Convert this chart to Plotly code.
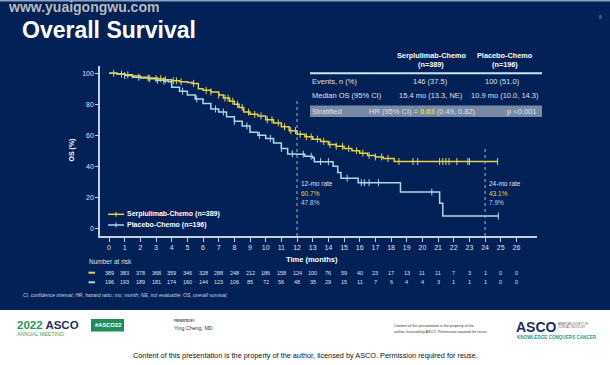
import numpy as np
import plotly.graph_objects as go

# ---------------- data ----------------
months = list(range(27))
tick_labels = [str(m) for m in months]
y_ticks = [0, 20, 40, 60, 80, 100]

serp_t = [0, 0.5, 1, 1.5, 2, 2.5, 3, 3.5, 4, 4.5, 5, 5.3, 5.7, 6, 6.5, 7, 7.3, 7.7, 8, 8.3, 8.6,
          9, 9.5, 10, 10.5, 11, 11.5, 12, 12.5, 13, 13.5, 14, 14.5, 15, 15.5, 16, 16.5, 17, 17.5,
          18.2, 24.8]
serp_s = [100, 99.5, 99, 98.2, 97.5, 97, 96.5, 95.8, 95.2, 94.5, 94, 93.5, 90, 89, 88, 86, 84, 82,
          80, 78, 75, 73.5, 72.5, 70, 68, 65.5, 63, 60.7, 59, 57.5, 56, 54, 53, 51.5, 50, 48.5, 47,
          46, 45, 43.1, 43.1]

plac_t = [0, 0.5, 1, 1.5, 2, 2.5, 3, 3.5, 3.8, 4, 4.5, 5, 5.5, 6, 6.5, 7, 7.5, 8, 8.5, 9, 9.5, 10,
          10.5, 11, 11.4, 12, 12.5, 13, 13.1, 14.3, 14.6, 14.8, 15.9, 18.6, 21.1, 21.3, 24.85]
plac_s = [100, 99.5, 98.5, 97.5, 97, 96.5, 95.5, 95, 94.5, 91, 88.5, 86, 83.5, 80.5, 77, 75, 72, 69,
          66, 62, 60, 58, 55, 51.5, 48, 47.8, 46.5, 45.5, 43, 40, 36, 32.3, 29.4, 23.4, 16.1, 7.9, 7.9]

serp_censor = [0.3, 0.8, 1.2, 2.5, 3.0, 3.3, 3.6, 4.1, 4.3, 4.6, 5.4, 6.2, 6.5, 7.0, 7.4, 7.6, 7.9,
               8.2, 8.5, 8.9, 9.3, 9.7, 10.1, 10.4, 10.8, 11.2, 11.6, 11.9, 12.2, 12.6, 12.9, 13.3,
               13.7, 14.1, 14.5, 14.9, 15.3, 15.8, 16.2, 16.6, 17.0, 17.4, 17.8, 18.5, 19.4, 19.7,
               21.1, 21.3, 21.5, 21.7, 22.2, 22.9, 23.0, 24.8]
plac_censor = [1.0, 1.9, 2.6, 3.1, 3.5, 4.7, 5.6, 6.8, 7.3, 8.0, 8.8, 9.6, 10.3, 11.0, 11.7, 12.4,
               12.9, 13.5, 14.0, 15.2, 16.1, 16.3, 16.6, 17.2, 20.6, 24.85]

risk_serp = [389, 383, 378, 368, 359, 346, 328, 288, 248, 212, 186, 158, 124, 100, 76, 59, 40, 23,
             17, 13, 11, 11, 7, 3, 1, 0, 0]
risk_plac = [196, 193, 189, 181, 174, 160, 144, 123, 106, 85, 72, 56, 48, 35, 29, 15, 11, 7, 6, 4,
             4, 3, 1, 1, 1, 0, 0]

serp_name = "Serplulimab-Chemo (n=389)"
plac_name = "Placebo-Chemo (n=196)"

# ---------------- style ----------------
W, H = 610, 365
L, R, T, B = 100, 537, 66, 236
NAVY = "#012157"
YEL = "#e5d24b"
BLU = "#a9dbe9"
TXT = "#dde4ee"
AX = "#c5cedd"
FONT = "Liberation Sans, Arial, sans-serif"


def PX(x):
    return (x - L) / (R - L)


def PY(y):
    return (B - y) / (B - T)


def step_val(ts, ss, tc):
    idx = np.searchsorted(np.array(ts), np.array(tc), side="right") - 1
    return list(np.array(ss)[idx])


fig = go.Figure()
fig.add_trace(go.Scatter(x=plac_t, y=plac_s, mode="lines", line=dict(color=BLU, width=1.5, shape="hv"),
                         showlegend=False, hoverinfo="skip"))
fig.add_trace(go.Scatter(x=plac_censor, y=step_val(plac_t, plac_s, plac_censor), mode="markers",
                         marker=dict(symbol="line-ns-open", size=5, color=BLU, line=dict(color=BLU, width=1)),
                         showlegend=False, hoverinfo="skip"))
fig.add_trace(go.Scatter(x=serp_t, y=serp_s, mode="lines", line=dict(color=YEL, width=1.5, shape="hv"),
                         showlegend=False, hoverinfo="skip"))
fig.add_trace(go.Scatter(x=serp_censor, y=step_val(serp_t, serp_s, serp_censor), mode="markers",
                         marker=dict(symbol="line-ns-open", size=5, color=YEL, line=dict(color=YEL, width=1)),
                         showlegend=False, hoverinfo="skip"))

x0 = -9 / 15.67
x1 = (R - 109) / 15.67
y0 = -(B - 228.3) / 1.55
y1 = 100 + (73.3 - T) / 1.55

fig.update_xaxes(range=[x0, x1], tickmode="array", tickvals=months, ticktext=tick_labels,
                 showgrid=False, zeroline=False, showline=True, linecolor=AX, linewidth=1.5,
                 ticks="outside", ticklen=4, tickcolor=AX, tickwidth=1,
                 tickfont=dict(family=FONT, size=7, color=TXT))
fig.update_yaxes(range=[y0, y1], tickmode="array", tickvals=y_ticks,
                 showgrid=False, zeroline=False, showline=True, linecolor=AX, linewidth=1.5,
                 ticks="outside", ticklen=3, tickcolor=AX, tickwidth=1,
                 tickfont=dict(family=FONT, size=7, color=TXT))

shapes = []
ann = []


def rect(xa, ya, xb, yb, color, layer="below"):
    shapes.append(dict(type="rect", xref="paper", yref="paper", x0=PX(xa), x1=PX(xb), y0=PY(yb), y1=PY(ya),
                       fillcolor=color, line=dict(width=0), layer=layer))


def hline(xa, xb, y, color, width):
    shapes.append(dict(type="line", xref="paper", yref="paper", x0=PX(xa), x1=PX(xb), y0=PY(y), y1=PY(y),
                       line=dict(color=color, width=width)))


def text(x, y, s, size, color=TXT, anchor="left", bold=False, italic=False, angle=0):
    if bold:
        s = "<b>" + s + "</b>"
    if italic:
        s = "<i>" + s + "</i>"
    ann.append(dict(xref="paper", yref="paper", x=PX(x), y=PY(y), text=s, showarrow=False,
                    xanchor=anchor, yanchor="middle", textangle=angle, borderpad=0,
                    font=dict(family=FONT, size=size, color=color)))


# backgrounds
rect(0, 0, W, 310, NAVY)
rect(0, 0, W, 1.5, "#8ea3c4")

# watermark / title / page
text(7, 7.5, "www.yuaigongwu.com", 14, color="#b9b9b9", bold=True)
text(21, 29.5, "Overall Survival", 23, color="#ffffff", bold=True)
text(600, 17, "8", 5, color="#8c9ab0", anchor="center")

# axis titles
text(71.5, 150, "OS (%)", 7, color="#ffffff", bold=True, anchor="center", angle=-90)
text(312, 259, "Time (months)", 7.5, color="#ffffff", bold=True, anchor="center")

# reference dotted lines
for xm, ytop in [(12, 100), (24, 146)]:
    shapes.append(dict(type="line", xref="x", yref="paper", x0=xm, x1=xm, y0=0, y1=PY(ytop),
                       line=dict(color="#aab6c8", width=1, dash="dot")))

# rate annotations
text(300, 183.5, "12-mo rate", 6.5, color=TXT)
text(300, 193, "60.7%", 6.5, color=YEL)
text(300, 202.3, "47.8%", 6.5, color=BLU)
text(488, 183.5, "24-mo rate", 6.5, color=TXT)
text(488, 193, "43.1%", 6.5, color=YEL)
text(488, 202.3, "7.9%", 6.5, color=BLU)

# legend
for yy, col, name in [(214.3, YEL, serp_name), (225, BLU, plac_name)]:
    hline(108, 124, yy, col, 1.5)
    shapes.append(dict(type="line", xref="paper", yref="paper", x0=PX(116), x1=PX(116), y0=PY(yy + 2.5),
                       y1=PY(yy - 2.5), line=dict(color=col, width=1)))
    text(126, yy, name, 7, color="#ffffff", bold=True)

# table
text(431, 55.7, "Serplulimab-Chemo", 7.3, color="#ffffff", bold=True, anchor="center")
text(431, 64.3, "(n=389)", 7.3, color="#ffffff", bold=True, anchor="center")
text(505, 55.7, "Placebo-Chemo", 7.3, color="#ffffff", bold=True, anchor="center")
text(505, 64.3, "(n=196)", 7.3, color="#ffffff", bold=True, anchor="center")
hline(310, 542, 73.3, "#c9e6f2", 2)
text(310.5, 81.7, "Events, n (%)", 7.5)
text(430, 81.7, "146 (37.5)", 7.5, anchor="center")
text(502, 81.7, "100 (51.0)", 7.5, anchor="center")
text(310.5, 95.5, "Median OS (95% CI)", 7.5)
text(431, 95.5, "15.4 mo (13.3, NE)", 7.5, anchor="center")
text(505, 95.5, "10.9 mo (10.0, 14.3)", 7.5, anchor="center")
rect(310, 105.5, 542, 117, "#7889a6")
text(311, 111.3, "Stratified", 7.5)
text(422, 111.3, "HR (95% CI) = <span style='color:" + YEL + "'><b>0.63</b></span> (0.49, 0.82)", 7.5,
     anchor="center")
text(521, 111.3, "p &lt;0.001", 7.5, anchor="center")

# number at risk
text(88, 261.5, "Number at risk", 6.5, color=TXT)
for yy, col, vals in [(272.7, YEL, risk_serp), (282.3, BLU, risk_plac)]:
    rect(88.5, yy - 1, 95, yy + 1, col, layer="above")
    for m, v in zip(months, vals):
        ann.append(dict(xref="x", yref="paper", x=m, y=PY(yy), text=str(v), showarrow=False,
                        xanchor="center", yanchor="middle", font=dict(family=FONT, size=5.5, color=TXT)))

# footnote
text(21.5, 295, "CI, confidence interval; HR, hazard ratio; mo, month; NE, not evaluable; OS, overall survival;",
     5, color="#cfd8e6", italic=True)

# footer (white area)
text(16, 324.5, "<span style='color:#2a9a5e'>2022</span> <span style='color:#1d2f60'>ASCO</span>", 11.5, bold=True)
text(16, 333.5, "ANNUAL MEETING", 5.3, color="#3ea26a")
rect(91, 319, 124, 331.5, "#1f8e5c", layer="above")
text(107.5, 325.3, "#ASCO22", 5.8, color="#ffffff", bold=True, anchor="center")
text(173, 320.5, "PRESENTED BY:", 2.6, color="#444444", bold=True)
text(173, 327.5, "Ying Cheng, MD", 5.3, color="#333333")
text(392.5, 325.5, "Content of this presentation is the property of the", 3.7, color="#333333")
text(392.5, 331.5, "author, licensed by ASCO. Permission required for reuse.", 3.7, color="#333333")
text(515, 326.5, "ASCO", 14, color="#1d2f60", bold=True)
text(557, 323.5, "AMERICAN SOCIETY OF", 2.6, color="#555555")
text(557, 327, "CLINICAL ONCOLOGY", 2.6, color="#555555")
text(516, 337, "KNOWLEDGE CONQUERS CANCER", 4.6, color="#2a9a8f", bold=True)
text(305, 355, "Content of this presentation is the property of the author, licensed by ASCO. Permission required for reuse.",
     7.3, color="#111111", anchor="center")

fig.update_layout(width=W, height=H, margin=dict(l=L, r=W - R, t=T, b=H - B, pad=0),
                  paper_bgcolor="#ffffff", plot_bgcolor="rgba(0,0,0,0)",
                  shapes=shapes, annotations=ann, showlegend=False,
                  font=dict(family=FONT, color=TXT))

fig.write_html("out.html", config={"displayModeBar": False},
               post_script="document.body.style.margin='0px';")
